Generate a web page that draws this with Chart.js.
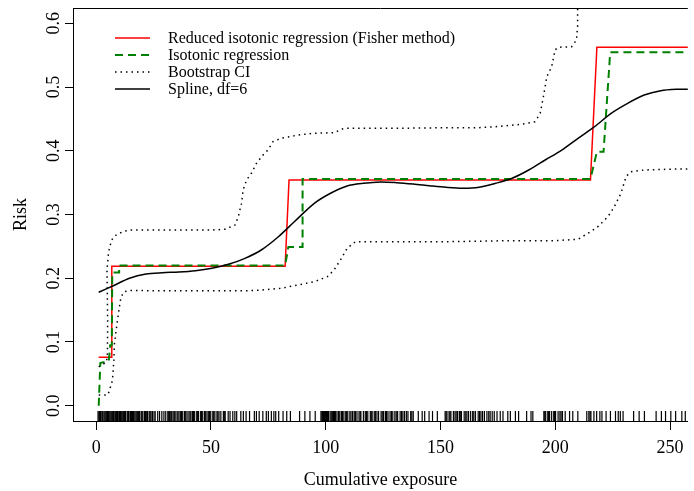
<!DOCTYPE html>
<html>
<head>
<meta charset="utf-8">
<script src="https://cdn.jsdelivr.net/npm/chart.js@4.4.0/dist/chart.umd.min.js"></script>
<style>
  html, body { margin: 0; padding: 0; background: #fff; overflow: hidden; }
  canvas { display: block; }
</style>
</head>
<body>
<canvas id="riskChart" width="694" height="491"></canvas>
<script>
// Axis ticks
const xTicks = [0, 50, 100, 150, 200, 250];
const yTicks = [0.0, 0.1, 0.2, 0.3, 0.4, 0.5, 0.6];

const seriesLabels = [
    'Reduced isotonic regression (Fisher method)',
    'Isotonic regression',
    'Bootstrap CI',
    'Spline, df=6'
];

// Reduced isotonic regression (Fisher method)
const redX = [1.1, 6.8, 6.8, 82.3, 84.0, 215.3, 218.1, 258];
const redY = [0.076, 0.076, 0.219, 0.219, 0.354, 0.354, 0.5625, 0.5625];

// Isotonic regression
const greenX = [1.1, 1.8, 5.5, 6.1, 6.8, 7.0, 10.0, 10.0, 82.3, 83.7, 89.9, 89.9, 215.3, 218.1, 221.0, 223.9, 258];
const greenY = [0.0, 0.067, 0.070, 0.095, 0.095, 0.209, 0.209, 0.220, 0.220, 0.249, 0.249, 0.3556, 0.3556, 0.3985, 0.3985, 0.5545, 0.5545];

// Spline, df=6
const splineX = [1.1, 7.2, 14.5, 21.7, 28.8, 36.0, 43.2, 50.4, 57.6, 64.8, 71.9, 79.1, 86.3, 95.0, 102.1, 109.3,
    116.5, 123.7, 130.9, 138.1, 145.2, 152.4, 159.6, 166.8, 174.0, 181.2, 188.4, 195.6, 202.8, 209.9,
    217.1, 224.3, 231.5, 238.7, 245.9, 253.0, 258];
const splineY = [0.1780, 0.1878, 0.2000, 0.2067, 0.2087, 0.2098, 0.2118, 0.2156, 0.2218, 0.2312, 0.2443, 0.2643,
    0.2887, 0.3175, 0.3333, 0.3447, 0.3489, 0.3510, 0.3500, 0.3479, 0.3452, 0.3427, 0.3412, 0.3427,
    0.3489, 0.3568, 0.3698, 0.3855, 0.4012, 0.4196, 0.4378, 0.4588, 0.4745, 0.4875, 0.4943, 0.4965, 0.4965];

// Bootstrap CI, upper
const ciUpX = [1.1, 4.5, 4.9, 5.0, 4.7, 5.4, 6.7, 8.7, 11.6, 14.5, 21.7, 36.0, 50.4, 56.1, 60.5, 61.9, 63.3, 64.0,
    65.5, 67.6, 69.8, 72.7, 74.8, 77.0, 80.6, 87.8, 95.0, 103.6, 107.9, 130.9, 152.4, 166.8, 174.0, 185.5,
    191.2, 193.4, 194.8, 196.3, 198.4, 199.9, 201.3, 207.1, 209.2, 209.7, 209.7, 210.0];
const ciUpY = [0.0608, 0.0685, 0.0826, 0.1347, 0.2129, 0.2412, 0.2600, 0.2678, 0.2731, 0.2757, 0.2757, 0.2757,
    0.2757, 0.2768, 0.2835, 0.2966, 0.3175, 0.3384, 0.3541, 0.3647, 0.3803, 0.3934, 0.4012, 0.4143, 0.4196,
    0.4247, 0.4275, 0.4284, 0.4352, 0.4352, 0.4362, 0.4362, 0.4378, 0.4416, 0.4457, 0.4588, 0.4848, 0.5162,
    0.5319, 0.5582, 0.5624, 0.5633, 0.5738, 0.5947, 0.6240, 0.66];

// Bootstrap CI, lower
const ciLoX = [1.1, 5.1, 5.8, 6.8, 7.2, 7.7, 7.9, 8.7, 9.3, 10.1, 10.8, 12.2, 15.0, 28.8, 50.4, 66.2, 71.9, 80.6,
    87.8, 95.0, 100.7, 103.6, 106.4, 109.3, 112.9, 116.5, 152.4, 181.2, 199.9, 209.9, 214.2, 218.5, 222.9,
    225.7, 228.6, 230.8, 232.9, 238.7, 253.0, 258];
const ciLoY = [0.0168, 0.0168, 0.0247, 0.0356, 0.0455, 0.0717, 0.0952, 0.1188, 0.1345, 0.1548, 0.1706, 0.1789,
    0.1807, 0.1804, 0.1804, 0.1804, 0.1815, 0.1842, 0.1894, 0.1945, 0.2024, 0.2129, 0.2286, 0.2470, 0.2573,
    0.2573, 0.2573, 0.2590, 0.2590, 0.2611, 0.2705, 0.2808, 0.2966, 0.3122, 0.3333, 0.3594, 0.3671, 0.3698,
    0.3714, 0.3714];

// Rug of exposure values
const rugX = [0.8, 1.2, 1.5, 1.9, 2.1, 2.6, 2.9, 3.4, 3.8, 4.2, 4.6, 4.9, 5.3, 5.6, 6.0, 6.4, 6.8, 7.2, 7.5, 8.1,
    8.5, 8.9, 9.3, 9.6, 10.2, 10.6, 10.9, 11.3, 11.7, 12.0, 12.4, 12.8, 13.5, 13.8, 14.1, 14.7, 15.0, 15.4,
    15.8, 16.2, 16.8, 17.3, 17.7, 18.1, 18.5, 18.9, 19.6, 19.9, 20.3, 21.0, 21.5, 22.0, 22.4, 23.1, 23.5,
    23.9, 24.5, 25.2, 25.7, 26.8, 27.6, 28.6, 29.5, 30.3, 31.2, 31.6, 32.0, 32.5, 32.9, 33.5, 34.0, 34.4,
    35.2, 35.6, 36.1, 36.8, 37.2, 37.7, 38.5, 39.0, 39.6, 40.4, 40.9, 41.3, 42.0, 42.4, 42.9, 43.8, 44.2,
    44.6, 45.5, 45.9, 46.4, 47.2, 47.7, 48.3, 49.0, 49.4, 49.9, 50.8, 51.2, 51.7, 52.6, 53.0, 53.5, 54.3,
    55.4, 55.8, 56.2, 57.5, 58.3,
    59.5, 60.4, 61.2, 63.0, 64.1, 65.3, 66.8, 68.9, 69.8, 71.0, 72.6, 74.1, 75.0, 76.3, 77.4, 78.2, 79.5,
    81.4, 83.0, 84.6,
    88.6, 90.9, 93.1, 95.4,
    97.9, 98.3, 98.6, 99.0, 99.4, 99.9, 100.3, 100.8, 101.2, 101.9, 102.4, 103.0, 103.4, 103.8, 104.3, 104.9,
    105.6, 106.1, 106.8, 107.3, 107.9, 108.7, 109.1, 109.6, 110.5, 111.0, 111.7, 112.4, 112.9, 113.6, 114.5,
    115.0, 115.3, 116.4, 117.2, 117.7, 118.3, 119.4, 119.8, 120.2, 121.1, 121.6, 122.3, 123.0, 124.1, 124.6,
    125.2, 126.0, 126.5, 127.1, 128.0, 128.6, 129.2, 130.1, 130.7, 131.3, 132.4, 133.0, 133.6, 134.3, 135.1,
    135.8, 137.0, 137.5, 138.1,
    140.3, 142.0, 143.1, 145.0, 146.5, 148.6,
    152.0, 152.4, 152.8, 153.7, 154.1, 154.5, 155.6, 156.3, 156.8, 157.4, 158.2, 158.6, 159.1, 160.3, 161.0,
    161.5, 162.2, 163.1, 164.0, 164.5, 165.2, 166.4, 167.0, 167.6, 168.3, 169.1, 170.2, 171.0, 171.6, 172.5,
    173.4, 174.6,
    176.0, 177.2, 179.3, 180.4, 182.6, 184.0, 187.5, 189.4, 190.2,
    195.0, 195.4, 195.8, 196.7, 197.1, 197.5, 198.4, 199.3, 199.7, 200.1, 201.2, 202.0, 202.5, 203.1, 204.3,
    206.2, 207.6, 209.8,
    213.7, 214.6, 215.1, 215.5, 216.8, 218.0, 219.4, 220.3, 222.1, 224.0, 226.2, 227.4, 228.3, 229.5,
    234.1, 236.5, 238.8, 243.9, 246.2, 248.0, 250.3, 252.4, 255.1, 256.6];

const SERIF = '"Liberation Serif", "DejaVu Serif", serif';
Chart.defaults.color = '#000';
Chart.defaults.font.family = SERIF;

function pts(xs, ys) {
    return xs.map((x, i) => ({ x: x, y: ys[i] }));
}

const styles = [
    { color: '#ff0000', width: 1.5, dash: [] },
    { color: '#008000', width: 2, dash: [8, 5] },
    { color: '#000000', width: 1.5, dash: [1.5, 4] },
    { color: '#000000', width: 1.5, dash: [] }
];

function lineSet(data, st, extra) {
    return Object.assign({
        data: data,
        showLine: true,
        borderColor: st.color,
        borderWidth: st.width,
        borderDash: st.dash,
        pointRadius: 0,
        tension: 0,
        fill: false
    }, extra || {});
}

// Legend, frame top line and rotated y tick labels
const framePlugin = {
    id: 'framePlugin',
    afterDraw(chart) {
        const ctx = chart.ctx;
        const area = chart.chartArea;
        const y = chart.scales.y;
        ctx.save();
        ctx.strokeStyle = '#000';
        ctx.lineWidth = 1;
        ctx.beginPath();
        ctx.moveTo(area.left, area.top + 0.5);
        ctx.lineTo(area.right, area.top + 0.5);
        ctx.stroke();

        ctx.fillStyle = '#000';
        ctx.font = '18px ' + SERIF;
        ctx.textAlign = 'center';
        ctx.textBaseline = 'alphabetic';
        yTicks.forEach(v => {
            ctx.save();
            ctx.translate(59, y.getPixelForValue(v));
            ctx.rotate(-Math.PI / 2);
            ctx.fillText(v.toFixed(1), 0, 0);
            ctx.restore();
        });

        // legend
        const lx0 = 115, lx1 = 150, tx = 168;
        const rows = [38, 55, 72, 89];
        ctx.font = '16px ' + SERIF;
        ctx.textAlign = 'left';
        ctx.textBaseline = 'middle';
        seriesLabels.forEach((lab, i) => {
            const st = styles[i];
            ctx.beginPath();
            ctx.strokeStyle = st.color;
            ctx.lineWidth = st.width;
            ctx.setLineDash(st.dash);
            ctx.moveTo(lx0, rows[i]);
            ctx.lineTo(lx1, rows[i]);
            ctx.stroke();
            ctx.setLineDash([]);
            ctx.fillText(lab, tx, rows[i] + 1);
        });
        ctx.restore();
    }
};

const ctx = document.getElementById('riskChart').getContext('2d');
const riskChart = new Chart(ctx, {
    type: 'scatter',
    data: {
        datasets: [
            {
                data: rugX.map(x => ({ x: x, y: 0.0121 })),
                yAxisID: 'yr',
                showLine: false,
                pointStyle: 'line',
                pointRotation: 90,
                pointRadius: 5,
                pointBorderWidth: 1.2,
                pointBorderColor: '#000',
                pointBackgroundColor: '#000'
            },
            lineSet(pts(splineX, splineY), styles[3], { tension: 0.3 }),
            lineSet(pts(ciUpX, ciUpY), styles[2]),
            lineSet(pts(ciLoX, ciLoY), styles[2]),
            lineSet(pts(greenX, greenY), styles[1]),
            lineSet(pts(redX, redY), styles[0])
        ]
    },
    options: {
        responsive: false,
        animation: false,
        events: [],
        layout: { padding: { top: 8, right: 0, left: 0, bottom: 0 } },
        plugins: {
            legend: { display: false },
            tooltip: { enabled: false }
        },
        scales: {
            x: {
                type: 'linear',
                min: -10.1,
                max: 257.7,
                afterFit: s => { s.height = 70; },
                afterBuildTicks: s => { s.ticks = xTicks.map(v => ({ value: v })); },
                border: { display: true, color: '#000', width: 1 },
                grid: { drawOnChartArea: false, drawTicks: true, tickLength: 9, color: '#000' },
                ticks: { font: { size: 18 }, padding: 7, maxRotation: 0, autoSkip: false },
                title: { display: true, text: 'Cumulative exposure', font: { size: 18 }, padding: { top: 0, bottom: 0 } }
            },
            y: {
                type: 'linear',
                min: -0.024,
                max: 0.624,
                afterFit: s => { s.width = 73; },
                afterBuildTicks: s => { s.ticks = yTicks.map(v => ({ value: v })); },
                border: { display: true, color: '#000', width: 1 },
                grid: { drawOnChartArea: false, drawTicks: true, tickLength: 8, color: '#000' },
                ticks: { display: false },
                title: { display: true, text: 'Risk', font: { size: 18 }, padding: { top: 10, bottom: 0 } }
            },
            yr: {
                type: 'linear',
                display: false,
                min: 0,
                max: 1
            }
        }
    },
    plugins: [framePlugin]
});
</script>
</body>
</html>
